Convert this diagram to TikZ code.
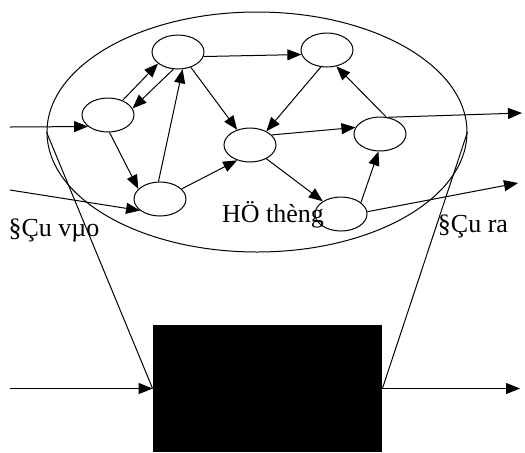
\documentclass[tikz,border=0pt]{standalone}
\usepackage{fontspec}
\setmainfont{Liberation Serif}
\usepackage{tikz}
\usetikzlibrary{arrows.meta, positioning, shapes.geometric}
\definecolor{InkBlack}{RGB}{0, 0, 0}

\tikzset{
  state/.style={ellipse, draw=InkBlack, line width=0.5pt, inner sep=0pt,
    minimum width=26pt, minimum height=17pt},
  flow/.style={-{Triangle[length=7pt, width=5.5pt]}, line width=0.5pt},
  plain/.style={line width=0.5pt},
  caption/.style={font=\fontsize{13}{15}\selectfont, inner sep=0pt, anchor=base}
}

\begin{document}
\begin{tikzpicture}[x=0.5pt, y=-0.5pt]
        \useasboundingbox (0,0) rectangle (525,452);
        % the system, opened up
        \node[
          ellipse,
          draw=InkBlack,
          line width=0.5pt,
          inner sep=0pt,
          minimum width=210pt,
          minimum height=120pt
        ] (system) at (257,132) {};
        \node[state] (s1) at (178,52) {};
        \node[state] (s2) at (327,50) {};
        \node[state] (s3) at (108,115) {};
        \node[state] (s4) at (250,145) {};
        \node[state] (s5) at (380,134) {};
        \node[state] (s6) at (160,199) {};
        \node[state] (s7) at (341,214) {};
        \coordinate (in1) at (10,127);
        \coordinate (in2) at (10,190);
        \coordinate (out1) at (522,113);
        \coordinate (out2) at (518,183);
        \draw[flow] (in1) -- (s3.210);
        \draw[flow] (in2) -- (s6.210);
        \draw[flow] (s3.45) -- (s1.210);
        \draw[flow] (s1.255) -- (s3.15);
        \draw[flow] (s3.275) -- (s6.155);
        \draw[flow] (s6.95) -- (s1.285);
        \draw[flow] (s1.350) -- (s2.190);
        \draw[flow] (s1.310) -- (s4.130);
        \draw[flow] (s2.250) -- (s4.40);
        \draw[flow] (s6.25) -- (s4.230);
        \draw[flow] (s4.25) -- (s5.165);
        \draw[flow] (s5.70) -- (s2.300);
        \draw[flow] (s4.320) -- (s7.145);
        \draw[flow] (s7.30) -- (s5.265);
        \draw[flow] (s5.65) -- (out1);
        \draw[flow] (s7.5) -- (out2);
        \node[caption] (lblsys) at (273,222) {HÖ thèng};
        \node[caption] (lblin) at (54,236) {§Çu vµo};
        \node[caption] (lblout) at (473,232) {§Çu ra};
        % the black box
        \node[
          fill=InkBlack,
          inner sep=0pt,
          minimum width=114.5pt,
          minimum height=63.5pt
        ] (box) at (267.5,388.5) {};
        \coordinate (in3) at (10,388.5);
        \coordinate (out3) at (520,388.5);
        \draw[plain] (system.west) -- (box.west);
        \draw[plain] (system.east) -- (box.east);
        \draw[flow] (in3) -- (box.west);
        \draw[flow] (box.east) -- (out3);
      \end{tikzpicture}
\end{document}
